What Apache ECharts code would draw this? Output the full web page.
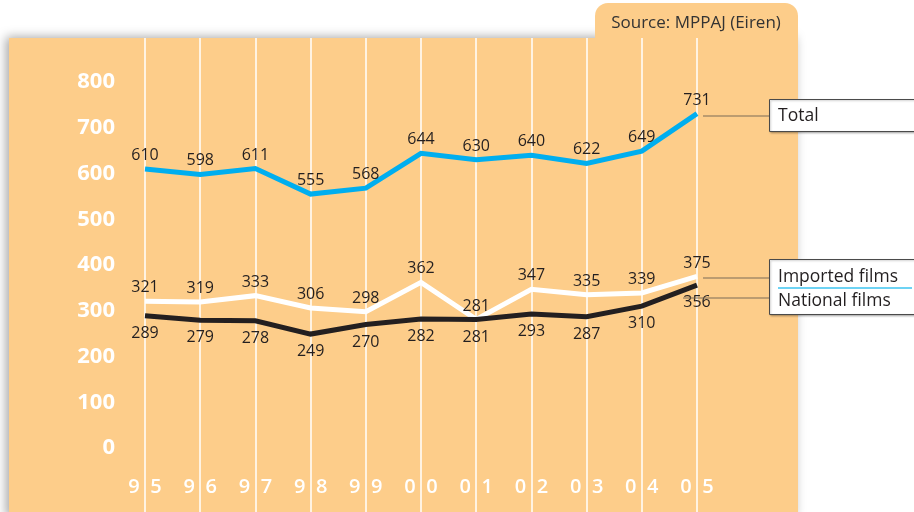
<!DOCTYPE html>
<html>
<head>
<meta charset="utf-8">
<script src="https://cdn.jsdelivr.net/npm/echarts@6/dist/echarts.min.js"></script>
<style>
  html, body { margin: 0; padding: 0; background: #ffffff; }
  #chart { width: 914px; height: 512px; }
</style>
</head>
<body>
<div id="chart"></div>
<script>
// Film releases per year (two-digit years)
var years = ['95', '96', '97', '98', '99', '00', '01', '02', '03', '04', '05'];
var totalFilms = [610, 598, 611, 555, 568, 644, 630, 640, 622, 649, 731];
var importedFilms = [321, 319, 333, 306, 298, 362, 281, 347, 335, 339, 375];
var nationalFilms = [289, 279, 278, 249, 270, 282, 281, 293, 287, 310, 356];
var yTicks = [0, 100, 200, 300, 400, 500, 600, 700, 800];

var FONT = '"Open Sans", "Noto Sans", sans-serif';
var PANEL = '#FDCD8A';
var INK = '#231F20';

var chart = echarts.init(document.getElementById('chart'), null, { renderer: 'canvas' });

function valueLabel(pos) {
  return {
    show: true,
    position: pos,
    distance: pos === 'top' ? 5 : 9,
    color: INK,
    fontFamily: FONT,
    fontSize: 16
  };
}

// invisible point markers so the value labels have an anchor
var hiddenPoint = { color: 'rgba(0,0,0,0)', borderWidth: 0 };

var option = {
  backgroundColor: '#ffffff',
  animation: false,
  graphic: [
    // background panel with a soft shadow on its left side
    {
      type: 'rect', z: -10, silent: true,
      shape: { x: 9, y: 38, width: 789, height: 480 },
      style: { fill: PANEL, shadowBlur: 10, shadowOffsetX: -3, shadowOffsetY: -1, shadowColor: 'rgba(0,0,0,0.35)' }
    },
    // source tab
    {
      type: 'rect', z: -9, silent: true,
      shape: { x: 595, y: 3, width: 203, height: 40, r: [13, 13, 0, 0] },
      style: { fill: PANEL }
    },
    {
      type: 'text', z: 5, silent: true,
      style: {
        x: 696, y: 23, text: 'Source: MPPAJ (Eiren)', align: 'center', verticalAlign: 'middle',
        fill: '#333333', fontFamily: FONT, fontSize: 17
      }
    },
    // series key: connector leaders
    { type: 'line', z: 5, silent: true, shape: { x1: 703, y1: 116, x2: 769, y2: 116 }, style: { stroke: '#7d6c57', lineWidth: 1.2 } },
    { type: 'line', z: 5, silent: true, shape: { x1: 703, y1: 278, x2: 769, y2: 278 }, style: { stroke: '#7d6c57', lineWidth: 1.2 } },
    { type: 'line', z: 5, silent: true, shape: { x1: 683, y1: 298, x2: 769, y2: 298 }, style: { stroke: '#7d6c57', lineWidth: 1.2 } },
    // series key: boxes
    {
      type: 'rect', z: 5, silent: true,
      shape: { x: 769.5, y: 99.5, width: 160, height: 32 },
      style: { fill: '#ffffff', stroke: '#4a4a4a', lineWidth: 1, shadowBlur: 2, shadowOffsetX: 1, shadowOffsetY: 1, shadowColor: 'rgba(0,0,0,0.25)' }
    },
    {
      type: 'rect', z: 5, silent: true,
      shape: { x: 769.5, y: 259.5, width: 160, height: 55 },
      style: { fill: '#ffffff', stroke: '#4a4a4a', lineWidth: 1, shadowBlur: 2, shadowOffsetX: 1, shadowOffsetY: 1, shadowColor: 'rgba(0,0,0,0.25)' }
    },
    { type: 'line', z: 6, silent: true, shape: { x1: 778, y1: 288, x2: 912, y2: 288 }, style: { stroke: '#3CC4F0', lineWidth: 1.5 } },
    {
      type: 'text', z: 6, silent: true,
      style: { x: 778, y: 116, text: 'Total', verticalAlign: 'middle', fill: INK, fontFamily: FONT, fontSize: 17.5 }
    },
    {
      type: 'text', z: 6, silent: true,
      style: { x: 778, y: 277, text: 'Imported films', verticalAlign: 'middle', fill: INK, fontFamily: FONT, fontSize: 17.5 }
    },
    {
      type: 'text', z: 6, silent: true,
      style: { x: 778, y: 301, text: 'National films', verticalAlign: 'middle', fill: INK, fontFamily: FONT, fontSize: 17.5 }
    }
  ],
  grid: [
    { left: 145, right: 217, top: 82, bottom: 64 },
    // full-height grid carrying the white year rules
    { left: 145, right: 217, top: 38, bottom: 0 }
  ],
  xAxis: [
    {
      gridIndex: 0,
      type: 'category',
      data: years,
      boundaryGap: false,
      axisLine: { show: false },
      axisTick: { show: false },
      splitLine: { show: false },
      axisLabel: {
        margin: 29,
        formatter: function (v) { return '{l|' + v.charAt(0) + '}{r|' + v.charAt(1) + '}'; },
        rich: {
          l: { width: 14, align: 'right', padding: [0, 5, 0, 0], color: '#ffffff', fontFamily: FONT, fontSize: 20, fontWeight: 600 },
          r: { width: 14, align: 'left', padding: [0, 0, 0, 3], color: '#ffffff', fontFamily: FONT, fontSize: 20, fontWeight: 600 }
        }
      }
    },
    {
      gridIndex: 1,
      type: 'category',
      data: years,
      boundaryGap: false,
      axisLine: { show: false },
      axisTick: { show: false },
      axisLabel: { show: false },
      splitLine: { show: true, lineStyle: { color: '#ffffff', width: 1.5 } }
    }
  ],
  yAxis: [
    {
      gridIndex: 0,
      type: 'value',
      min: yTicks[0],
      max: yTicks[yTicks.length - 1],
      interval: yTicks[1] - yTicks[0],
      axisLine: { show: false },
      axisTick: { show: false },
      splitLine: { show: false },
      axisLabel: {
        margin: 30,
        color: '#ffffff',
        fontFamily: FONT,
        fontSize: 22,
        fontWeight: 'bold'
      }
    },
    {
      gridIndex: 1,
      type: 'value',
      show: false
    }
  ],
  series: [
    {
      name: 'Total',
      type: 'line',
      data: totalFilms,
      showSymbol: true,
      symbol: 'circle',
      symbolSize: 1,
      itemStyle: hiddenPoint,
      z: 3,
      lineStyle: { color: '#00AEEF', width: 5, join: 'miter', cap: 'butt' },
      label: valueLabel('top')
    },
    {
      name: 'Imported films',
      type: 'line',
      data: importedFilms,
      showSymbol: true,
      symbol: 'circle',
      symbolSize: 1,
      itemStyle: hiddenPoint,
      z: 3,
      lineStyle: { color: '#ffffff', width: 5, join: 'miter', cap: 'butt' },
      label: valueLabel('top')
    },
    {
      name: 'National films',
      type: 'line',
      data: nationalFilms,
      showSymbol: true,
      symbol: 'circle',
      symbolSize: 1,
      itemStyle: hiddenPoint,
      z: 4,
      lineStyle: { color: INK, width: 5, join: 'miter', cap: 'butt' },
      label: valueLabel('bottom')
    }
  ]
};

chart.setOption(option);
</script>
</body>
</html>
